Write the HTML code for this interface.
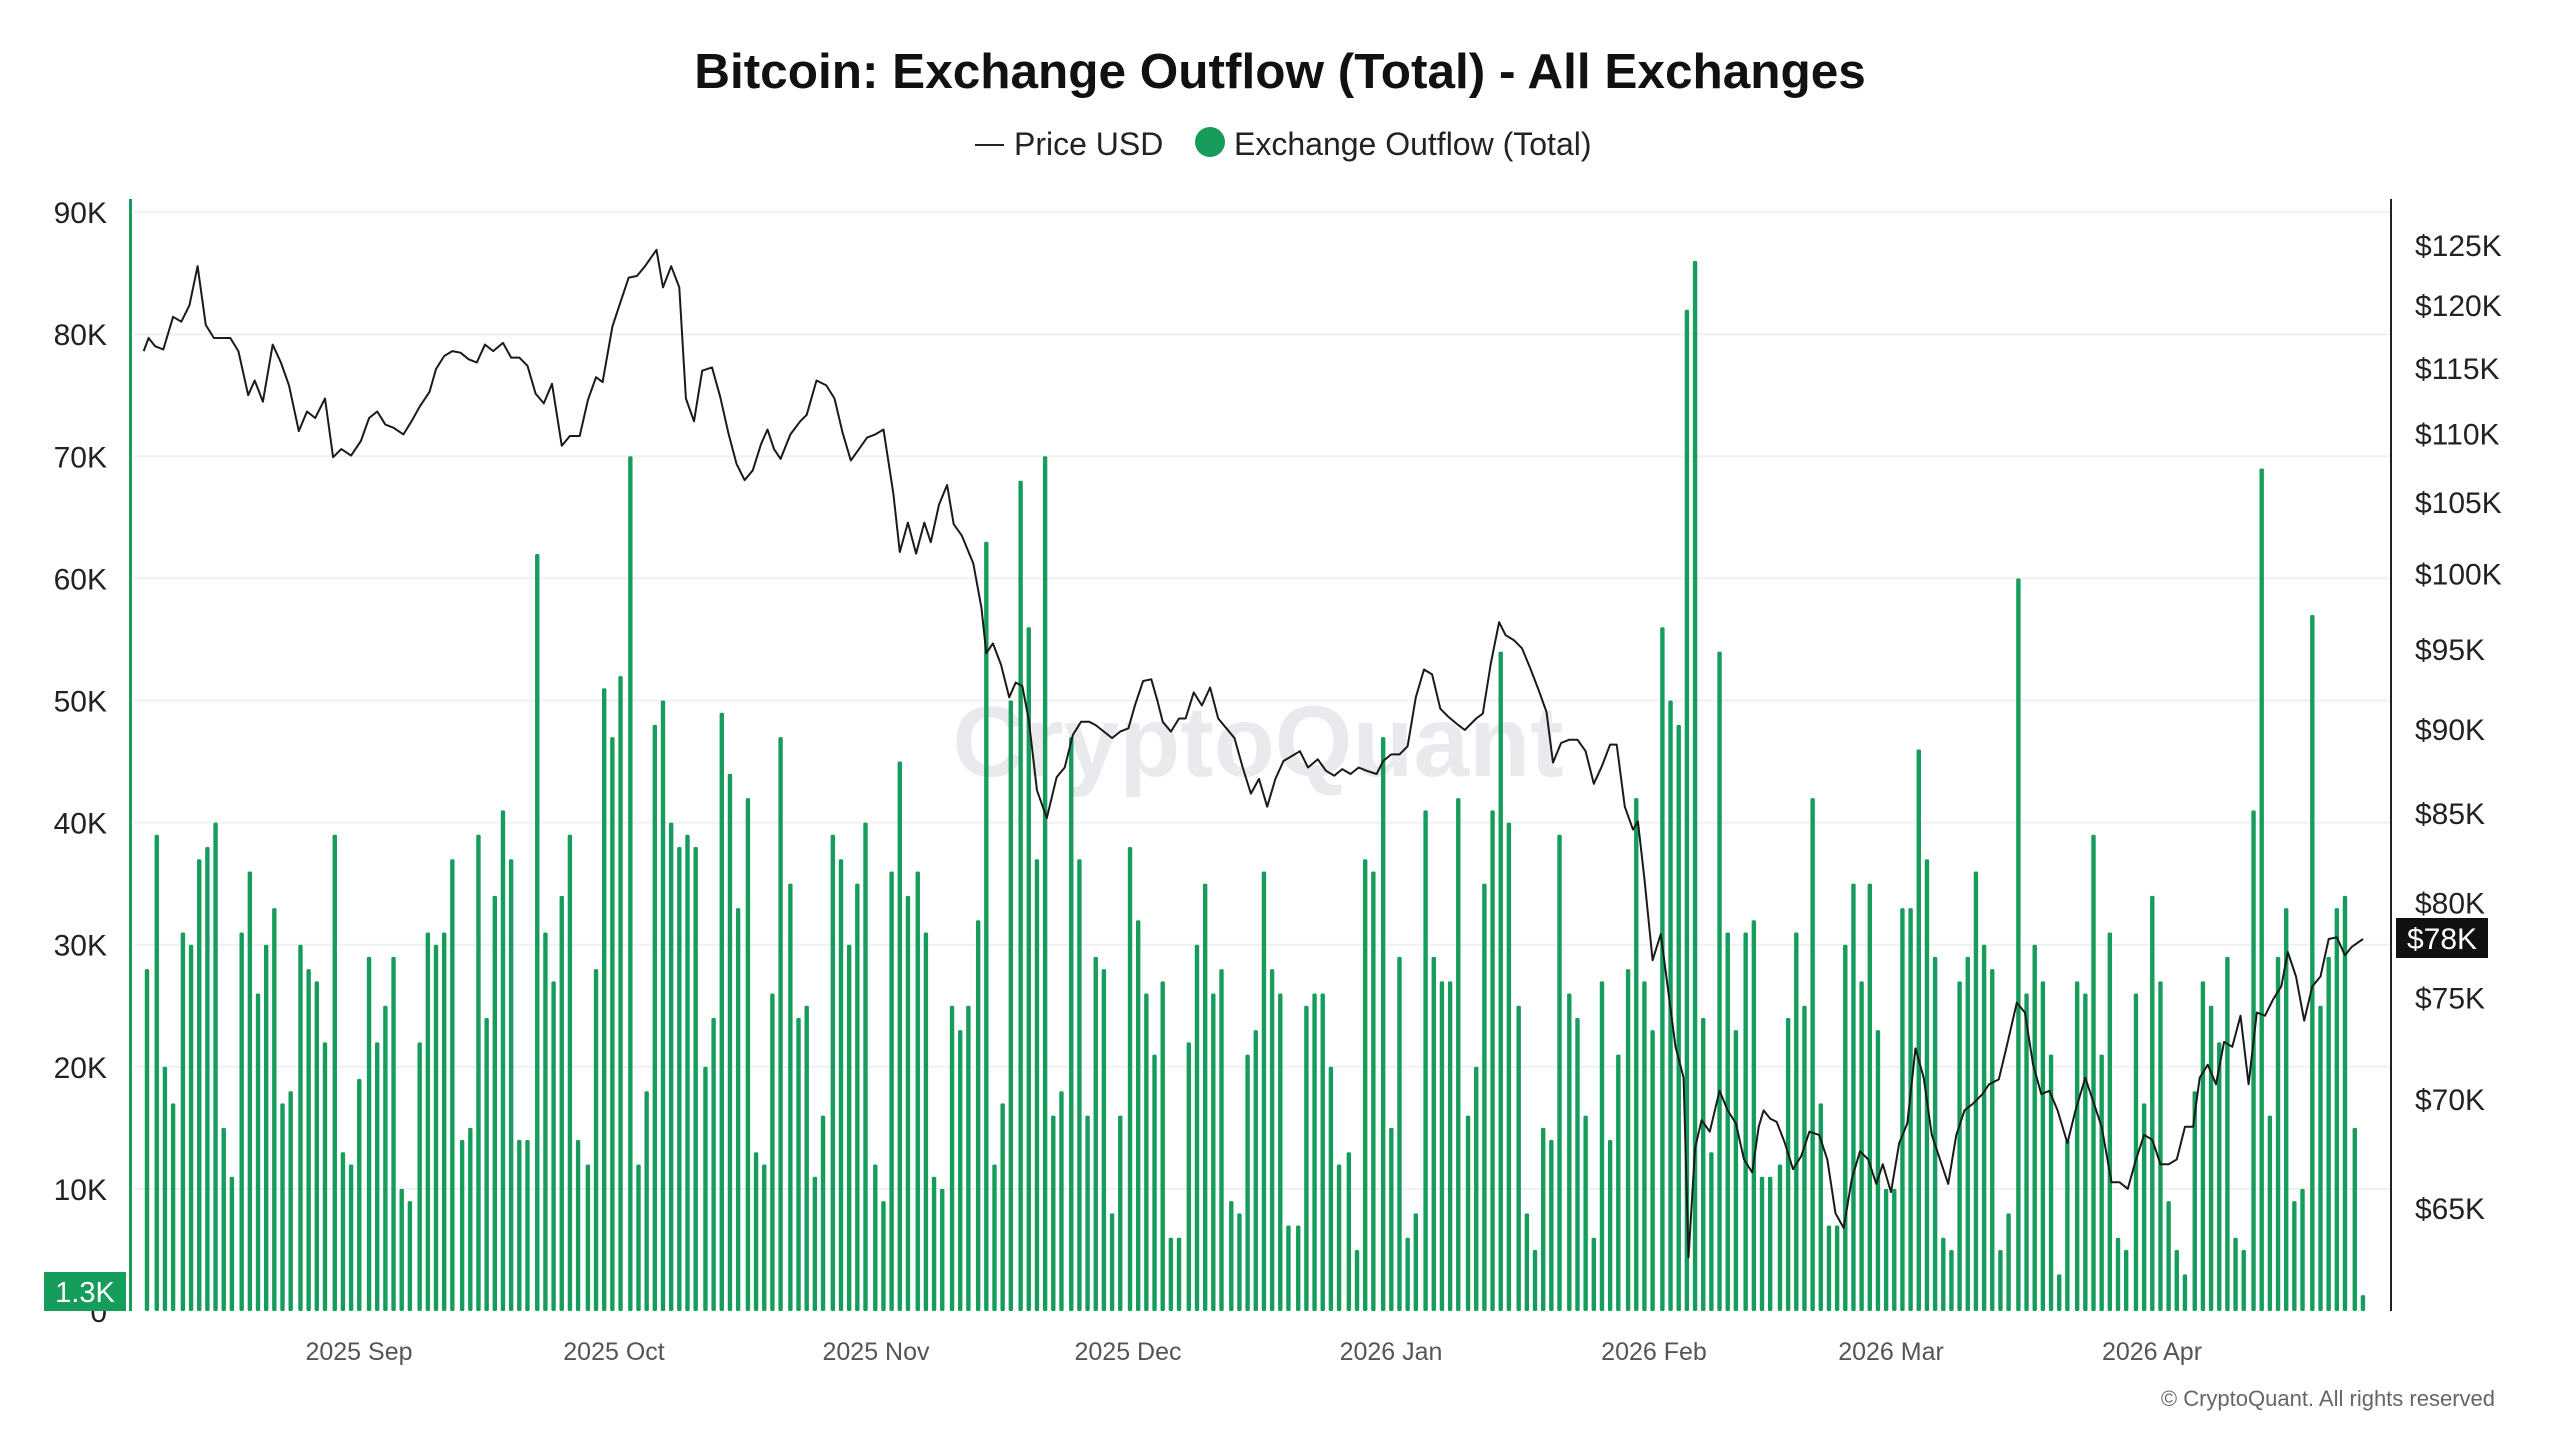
<!DOCTYPE html>
<html><head><meta charset="utf-8"><style>
html,body{margin:0;padding:0;background:#fff;width:2560px;height:1440px;overflow:hidden}
svg{display:block}
text{font-family:"Liberation Sans",sans-serif}
</style></head><body>
<svg id="s" width="2560" height="1440" viewBox="0 0 2560 1440" xmlns="http://www.w3.org/2000/svg">
<text x="1280" y="88" text-anchor="middle" font-size="49.5" font-weight="bold" fill="#111">Bitcoin: Exchange Outflow (Total) - All Exchanges</text>
<line x1="975" y1="145" x2="1004" y2="145" stroke="#222" stroke-width="2"/>
<text x="1014" y="155" font-size="32" fill="#222">Price USD</text>
<circle cx="1210" cy="142" r="15" fill="#169c5b"/>
<text x="1234" y="155" font-size="32" fill="#222">Exchange Outflow (Total)</text>
<text x="1258" y="776" text-anchor="middle" font-size="100" font-weight="bold" fill="#e6e6ea" opacity="0.8">CryptoQuant</text>
<g id="grid"></g>
<g id="bars"></g>
<g id="line"></g>
<line x1="130.5" y1="199" x2="130.5" y2="1311" stroke="#169c5b" stroke-width="3"/>
<line x1="2391" y1="199" x2="2391" y2="1311" stroke="#222" stroke-width="2"/>
<g id="lab"></g>
<rect x="2396" y="918" width="92" height="40" fill="#111"/>
<text x="2442" y="949" text-anchor="middle" font-size="30" fill="#fff">$78K</text>
<rect x="44" y="1272" width="82" height="39" fill="#169c5b"/>
<text x="85" y="1302" text-anchor="middle" font-size="29" fill="#fff">1.3K</text>
<text x="2495" y="1406" text-anchor="end" font-size="22" fill="#666">© CryptoQuant. All rights reserved</text>
</svg>
<script>
var k=1.633,NS="http://www.w3.org/2000/svg";
function el(p,t,a,txt){var e=document.createElementNS(NS,t);for(var i in a)e.setAttribute(i,a[i]);if(txt!=null)e.textContent=txt;document.getElementById(p).appendChild(e);}
var y0=1311,per=122.1;
for(var i=0;i<=9;i++){var y=y0-i*per;if(i>0)el("grid","line",{x1:134,x2:2389,y1:y,y2:y,stroke:"#f0f0f0","stroke-width":2});
el("lab","text",{x:107,y:y+11,"text-anchor":"end","font-size":30,fill:"#222"},i==0?"0":(i*10)+"K");}
[125,120,115,110,105,100,95,90,85,80,75,70,65].forEach(function(p){var y=245+1473*Math.log(125/p);
el("lab","text",{x:2415,y:y+11,"font-size":30,fill:"#222"},"$"+p+"K");});
[["2025 Sep",359],["2025 Oct",614],["2025 Nov",876],["2025 Dec",1128],["2026 Jan",1391],["2026 Feb",1654],["2026 Mar",1891],["2026 Apr",2152]].forEach(function(a){
el("lab","text",{x:a[1],y:1360,"text-anchor":"middle","font-size":25,fill:"#555"},a[0]);});
var b="90:28,96:39,101:20,106:17,112:31,117:30,122:37,127:38,132:40,137:15,142:11,148:31,153:36,158:26,163:30,168:33,173:17,178:18,184:30,189:28,194:27,199:22,205:39,210:13,215:12,220:19,226:29,231:22,236:25,241:29,246:10,251:9,257:22,262:31,267:30,272:31,277:37,283:14,288:15,293:39,298:24,303:34,308:41,313:37,318:14,323:14,329:62,334:31,339:27,344:34,349:39,354:14,360:12,365:28,370:51,375:47,380:52,386:70,391:12,396:18,401:48,406:50,411:40,416:38,421:39,426:38,432:20,437:24,442:49,447:44,452:33,458:42,463:13,468:12,473:26,478:47,484:35,489:24,494:25,499:11,504:16,510:39,515:37,520:30,525:35,530:40,536:12,541:9,546:36,551:45,556:34,562:36,567:31,572:11,577:10,583:25,588:23,593:25,599:32,604:63,609:12,614:17,619:50,625:68,630:56,635:37,640:70,645:16,650:18,656:47,661:37,666:16,671:29,676:28,681:8,686:16,692:38,697:32,702:26,707:21,712:27,717:6,722:6,728:22,733:30,738:35,743:26,748:28,754:9,759:8,764:21,769:23,774:36,779:28,784:26,789:7,795:7,800:25,805:26,810:26,815:20,820:12,826:13,831:5,836:37,841:36,847:47,852:15,857:29,862:6,867:8,873:41,878:29,883:27,888:27,893:42,899:16,904:20,909:35,914:41,919:54,924:40,930:25,935:8,940:5,945:15,950:14,955:39,961:26,966:24,971:16,976:6,981:27,986:14,991:21,997:28,1002:42,1007:27,1012:23,1018:56,1023:50,1028:48,1033:82,1038:86,1043:24,1048:13,1053:54,1058:31,1063:23,1069:31,1074:32,1079:11,1084:11,1090:12,1095:24,1100:31,1105:25,1110:42,1115:17,1120:7,1125:7,1130:30,1135:35,1140:27,1145:35,1150:23,1155:10,1160:10,1165:33,1170:33,1175:46,1180:37,1185:29,1190:6,1195:5,1200:27,1205:29,1210:36,1215:30,1220:28,1225:5,1230:8,1236:60,1241:26,1246:30,1251:27,1256:21,1261:3,1266:14,1272:27,1277:26,1282:39,1287:21,1292:31,1297:6,1302:5,1308:26,1313:17,1318:34,1323:27,1328:9,1333:5,1338:3,1344:18,1349:27,1354:25,1359:22,1364:29,1369:6,1374:5,1380:41,1385:69,1390:16,1395:29,1400:33,1405:9,1410:10,1416:57,1421:25,1426:29,1431:33,1436:34,1442:15,1447:1.3";
b.split(",").forEach(function(s){var p=s.split(":"),x=+p[0]*k,v=+p[1],h=v*per/10;
el("bars","rect",{x:x-2.2,y:y0-h,width:4.4,height:h,fill:"#169c5b",rx:1.5});});
var l="88,215;91,207;95,212;100,214;106,194;111,197;116,187;121,163;126,199;131,207;136,207;141,207;146,215;152,242;156,233;161,246;167,211;172,222;177,236;183,264;188,252;193,256;199,244;204,280;209,275;215,279;221,270;226,256;231,252;236,260;241,262;247,266;252,258;257,249;263,240;267,226;272,218;277,215;282,216;287,220;292,222;297,211;302,215;308,210;313,219;318,219;323,224;328,241;333,247;338,235;344,273;349,267;355,267;360,245;365,231;369,234;375,200;380,185;385,170;390,169;395,163;402,153;406,176;411,163;416,176;420,244;425,258;430,227;436,225;441,243;446,265;451,284;456,294;461,288;466,272;470,263;474,275;478,281;484,266;490,258;494,254;500,233;506,236;511,244;516,265;521,282;526,275;531,268;536,266;541,263;547,302;551,338;556,320;561,339;566,320;570,332;575,309;580,297;584,321;589,328;596,345;601,372;604,400;608,394;613,407;618,427;622,418;626,420;630,441;635,484;641,501;647,476;652,470;657,450;662,442;667,442;671,444;676,448;681,452;686,448;691,446;695,432;700,417;705,416;709,430;712,442;717,448;722,440;726,440;731,424;736,432;741,421;746,440;751,446;756,452;761,470;766,486;771,477;776,494;781,477;786,466;791,463;796,460;801,470;807,465;812,472;817,475;822,471;827,474;832,470;837,472;843,474;847,466;852,462;857,462;862,457;867,427;872,410;877,413;882,434;887,439;893,444;897,447;904,440;908,437;913,406;918,381;922,389;927,392;932,397;937,409;942,422;947,436;951,467;956,455;961,453;966,453;971,460;976,480;981,469;986,456;990,456;995,494;1000,508;1003,503;1007,538;1012,588;1017,572;1022,610;1026,641;1031,660;1034,770;1038,703;1042,686;1047,693;1053,668;1058,680;1063,688;1068,710;1073,718;1077,690;1080,680;1084,685;1088,687;1093,700;1098,716;1103,708;1108,693;1114,695;1119,710;1124,743;1129,752;1134,722;1139,705;1144,710;1149,725;1153,713;1158,730;1163,700;1168,688;1173,642;1178,660;1183,695;1188,710;1193,725;1198,695;1203,680;1208,676;1214,670;1218,664;1224,661;1229,640;1235,614;1240,620;1245,652;1250,670;1255,668;1260,680;1266,700;1271,680;1277,660;1282,675;1287,690;1293,724;1298,724;1303,728;1308,710;1313,695;1318,698;1323,713;1328,713;1333,710;1338,690;1343,690;1347,660;1352,652;1357,664;1362,638;1367,641;1372,622;1377,664;1382,620;1387,622;1392,612;1397,604;1401,583;1406,598;1411,625;1416,604;1421,598;1426,575;1431,574;1436,585;1440,580;1447,575";
var pts=l.split(";").map(function(s){var p=s.split(",");return (+p[0]*k).toFixed(1)+","+(+p[1]*k).toFixed(1);}).join(" ");
el("line","polyline",{points:pts,fill:"none",stroke:"#1a1a1a","stroke-width":2,"stroke-linejoin":"round"});
</script>
</body></html>
